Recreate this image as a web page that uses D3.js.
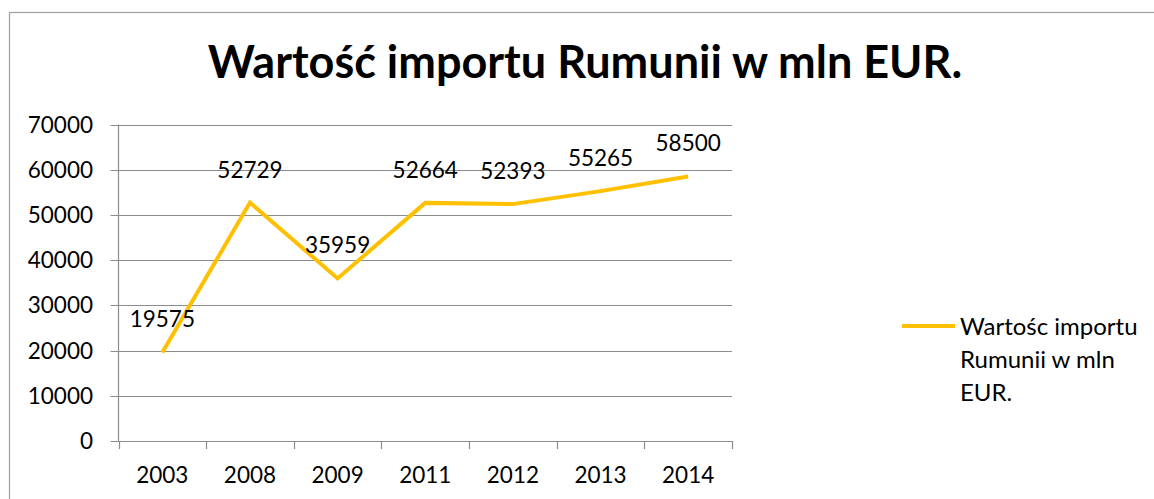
<html>
  <head>
    <script src="https://d3js.org/d3.v7.min.js"></script>
    <style>
      body { margin: 0; background: #fff; }
      text { font-family: Lato, "Open Sans", sans-serif; fill: #000; }
    </style>
  </head>
  <body>
    <svg id="chart" width="1154" height="499"></svg>
    <script>
      // data
      const years = ["2003", "2008", "2009", "2011", "2012", "2013", "2014"];
      const imports = [19575, 52729, 35959, 52664, 52393, 55265, 58500];
      const yTicks = [0, 10000, 20000, 30000, 40000, 50000, 60000, 70000];
      const seriesName = ["Wartośc importu", "Rumunii w mln", "EUR."];

      const svg = d3.select("#chart");
      const margin = { left: 118.5, right: 732, top: 124.5, bottom: 441 };
      const gold = "#FFC000";
      const grey = "#8c8c8c";

      // outer frame of the chart object
      svg.append("rect")
        .attr("x", 9.5).attr("y", 12.5)
        .attr("width", 1170).attr("height", 520)
        .attr("fill", "none").attr("stroke", "#a0a0a0").attr("stroke-width", 1.2);

      svg.append("text")
        .attr("x", 585).attr("y", 78)
        .attr("text-anchor", "middle")
        .attr("font-size", 45).attr("font-weight", "bold")
        .text("Wartość importu Rumunii w mln EUR.");

      const x = d3.scaleBand().domain(years).range([margin.left, margin.right]);
      const y = d3.scaleLinear().domain([0, 70000]).range([margin.bottom, margin.top]);

      // gridlines
      svg.append("g").selectAll("line")
        .data(yTicks)
        .join("line")
        .attr("x1", margin.left - 8).attr("x2", margin.right)
        .attr("y1", d => Math.round(y(d)) + 0.5).attr("y2", d => Math.round(y(d)) + 0.5)
        .attr("stroke", grey).attr("stroke-width", 1.2);

      svg.append("g").selectAll("text")
        .data(yTicks)
        .join("text")
        .attr("x", 93).attr("y", d => y(d))
        .attr("dy", "0.36em")
        .attr("text-anchor", "end")
        .attr("font-size", 22.5)
        .text(d => d);

      // y axis line
      svg.append("line")
        .attr("x1", margin.left).attr("x2", margin.left)
        .attr("y1", margin.top).attr("y2", margin.bottom)
        .attr("stroke", grey).attr("stroke-width", 1.2);

      // category tick marks at band edges
      const edges = years.map(d => x(d)).concat([margin.right]);
      svg.append("g").selectAll("line")
        .data(edges)
        .join("line")
        .attr("x1", d => Math.round(d) + 0.5).attr("x2", d => Math.round(d) + 0.5)
        .attr("y1", margin.bottom).attr("y2", margin.bottom + 8)
        .attr("stroke", grey).attr("stroke-width", 1.2);

      svg.append("g").selectAll("text")
        .data(years)
        .join("text")
        .attr("x", d => x(d) + x.bandwidth() / 2).attr("y", 483)
        .attr("text-anchor", "middle")
        .attr("font-size", 22.5)
        .text(d => d);

      const pts = years.map((d, i) => ({ year: d, v: imports[i] }));
      const line = d3.line()
        .x(d => x(d.year) + x.bandwidth() / 2)
        .y(d => y(d.v));

      svg.append("path")
        .datum(pts)
        .attr("d", line)
        .attr("fill", "none")
        .attr("stroke", gold).attr("stroke-width", 4)
        .attr("stroke-linejoin", "miter");

      svg.append("g").selectAll("text")
        .data(pts)
        .join("text")
        .attr("x", d => x(d.year) + x.bandwidth() / 2)
        .attr("y", d => y(d.v) - 25)
        .attr("text-anchor", "middle")
        .attr("font-size", 22.5)
        .text(d => d.v);

      // legend
      svg.append("line")
        .attr("x1", 902).attr("x2", 955)
        .attr("y1", 326).attr("y2", 326)
        .attr("stroke", gold).attr("stroke-width", 4);

      svg.append("g").selectAll("text")
        .data(seriesName)
        .join("text")
        .attr("x", 960).attr("y", (d, i) => 335 + i * 33)
        .attr("font-size", 24)
        .text(d => d);
    </script>
  </body>
</html>
